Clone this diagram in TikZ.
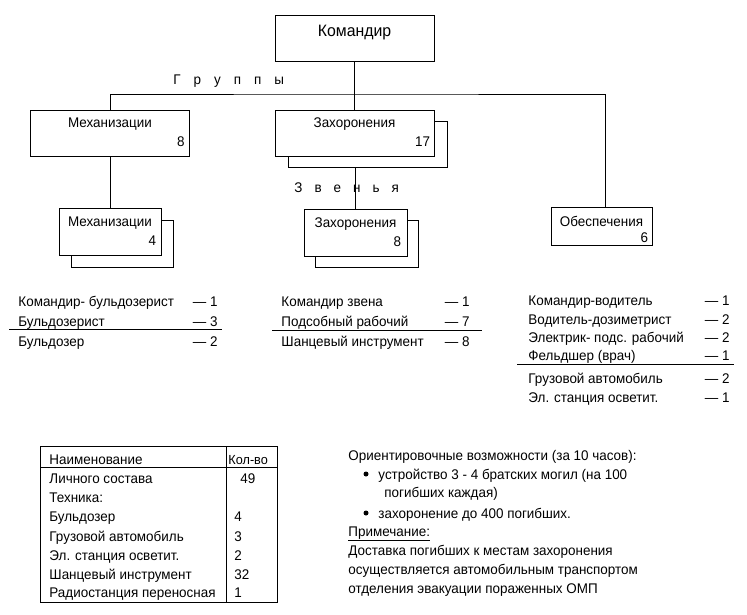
\documentclass[tikz,border=0pt]{standalone}
\usepackage{fontspec}
\setmainfont[FakeStretch=0.96]{Liberation Sans}
\usetikzlibrary{positioning}
\tikzset{
	box/.style={draw, fill=white, inner sep=0pt},
	txt/.style={inner sep=0pt, anchor=base west},
	num/.style={inner sep=0pt, anchor=base east},
}

\begin{document}
\begin{tikzpicture}[x=1pt, y=-1pt, line width=0.9pt, font=\fontsize{14}{16}\selectfont]
			%%%%% START %%%%%
			\useasboundingbox (0,0) rectangle (747,614);
			
			\node[box, minimum width=159pt, minimum height=46pt] (cmd) at (354.5,38) {};
			\node[txt, anchor=base, font=\fontsize{16.5}{18}\selectfont] (cmdT) at ([yshift=-22pt]cmd.north) {Командир};
			
			\node[box, minimum width=159pt, minimum height=46pt] (mech) at (110,133) {};
			\node[txt, anchor=base] (mechT) at ([yshift=-17.5pt]mech.north) {Механизации};
			\node[num] (mechN) at ([xshift=-5pt, yshift=10pt]mech.south east) {8};
			
			\node[box, minimum width=159pt, minimum height=46pt] (zahS) at (368,144.5) {};
			\node[box, minimum width=159pt, minimum height=46pt] (zah) at (354.5,133) {};
			\node[txt, anchor=base] (zahT) at ([yshift=-17.5pt]zah.north) {Захоронения};
			\node[num] (zahN) at ([xshift=-4pt, yshift=10pt]zah.south east) {17};
			
			\node[box, minimum width=102pt, minimum height=47pt] (mech2S) at (122.5,243.5) {};
			\node[box, minimum width=102pt, minimum height=47pt] (mech2) at (110,231.5) {};
			\node[txt, anchor=base] (mech2T) at ([yshift=-19pt]mech2.north) {Механизации};
			\node[num] (mech2N) at ([xshift=-5pt, yshift=10pt]mech2.south east) {4};
			
			\node[box, minimum width=103pt, minimum height=47pt] (zah2S) at (367,244) {};
			\node[box, minimum width=103pt, minimum height=47pt] (zah2) at (355.5,232.5) {};
			\node[txt, anchor=base] (zah2T) at ([yshift=-19pt]zah2.north) {Захоронения};
			\node[num] (zah2N) at ([xshift=-6pt, yshift=10pt]zah2.south east) {8};
			
			\node[box, minimum width=101pt, minimum height=38pt] (obesp) at (601.5,226) {};
			\node[txt, anchor=base] (obespT) at ([yshift=-20pt]obesp.north) {Обеспечения};
			\node[num] (obespN) at ([xshift=-4pt, yshift=2.5pt]obesp.south east) {6};
			
			%%%%% LINKS %%%%%
			\coordinate (bus) at (354.5,94);
			\draw (cmd.south) -- (zah.north);
			\draw (mech.north) |- (bus) -| ([xshift=3.5pt]obesp.north);
			\draw (mech.south) -- (mech2.north);
			\draw (zah2.north |- zahS.south) -- (zah2.north);
			
			\node[txt] (grp) at (173,84) {Г\hspace{13pt}р\hspace{13pt}у\hspace{13pt}п\hspace{13pt}п\hspace{13pt}ы};
			\node[txt] (zv) at (294,192) {З\hspace{12pt}в\hspace{12pt}е\hspace{12pt}н\hspace{12pt}ь\hspace{12pt}я};
			
			%%%%% LISTS %%%%%
			\node[txt] (mechL1) at (18,306.5) {Командир- бульдозерист};
			\node[num] (mechL1n) at (218,306.5) {— 1};
			\node[txt] (mechL2) at (18,326) {Бульдозерист};
			\node[num] (mechL2n) at (218,326) {— 3};
			\draw[line width=0.8pt] (9,329.5) -- (222,329.5);
			\node[txt] (mechL3) at (18,346) {Бульдозер};
			\node[num] (mechL3n) at (218,346) {— 2};
			
			\node[txt] (zahL1) at (281,306.5) {Командир звена};
			\node[num] (zahL1n) at (470,306.5) {— 1};
			\node[txt] (zahL2) at (281,326) {Подсобный рабочий};
			\node[num] (zahL2n) at (470,326) {— 7};
			\draw[line width=0.8pt] (272,330.5) -- (482,330.5);
			\node[txt] (zahL3) at (281,346) {Шанцевый инструмент};
			\node[num] (zahL3n) at (470,346) {— 8};
			
			\node[txt] (obL1) at (528,305) {Командир-водитель};
			\node[num] (obL1n) at (730,305) {— 1};
			\node[txt] (obL2) at (528,324) {Водитель-дозиметрист};
			\node[num] (obL2n) at (730,324) {— 2};
			\node[txt] (obL3) at (528,342) {Электрик- подс. рабочий};
			\node[num] (obL3n) at (730,342) {— 2};
			\node[txt] (obL4) at (528,360.5) {Фельдшер (врач)};
			\node[num] (obL4n) at (730,360.5) {— 1};
			\draw[line width=0.8pt] (517,364) -- (734,364);
			\node[txt] (obL5) at (528,383) {Грузовой автомобиль};
			\node[num] (obL5n) at (730,383) {— 2};
			\node[txt] (obL6) at (528,402) {Эл. станция осветит.};
			\node[num] (obL6n) at (730,402) {— 1};
			
			%%%%% TABLE %%%%%
			\draw (40,446) rectangle (277,602);
			\draw (40,467) -- (277,467);
			\draw (226,446) -- (226,602);
			\node[txt] (th1) at (49,464) {Наименование};
			\node[txt, font=\fontsize{13.2}{16}\selectfont] (th2) at (228,464) {Кол-во};
			\node[txt] (tr1) at (49,483.3) {Личного состава};
			\node[txt] (tr1n) at (240,483.3) {49};
			\node[txt] (tr2) at (49,502.7) {Техника:};
			\node[txt] (tr3) at (49,521.7) {Бульдозер};
			\node[txt] (tr3n) at (234,521.7) {4};
			\node[txt] (tr4) at (49,541) {Грузовой автомобиль};
			\node[txt] (tr4n) at (234,541) {3};
			\node[txt] (tr5) at (49,560) {Эл. станция осветит.};
			\node[txt] (tr5n) at (234,560) {2};
			\node[txt] (tr6) at (49,579) {Шанцевый инструмент};
			\node[txt] (tr6n) at (234,579) {32};
			\node[txt] (tr7) at (49,597.7) {Радиостанция переносная};
			\node[txt] (tr7n) at (234,597.7) {1};
			
			%%%%% NOTES %%%%%
			\node[txt] (nt1) at (348,460) {Ориентировочные возможности (за 10 часов):};
			\fill (366,474) circle (2.5pt);
			\node[txt] (nt2) at (378,479) {устройство 3 - 4 братских могил (на 100};
			\node[txt] (nt3) at (384,497.5) {погибших каждая)};
			\fill (366,513) circle (2.5pt);
			\node[txt] (nt4) at (378,518) {захоронение до 400 погибших.};
			\node[txt] (nt5) at (348,536) {\underline{Примечание:}};
			\node[txt] (nt6) at (348,555) {Доставка погибших к местам захоронения};
			\node[txt] (nt7) at (348,574) {осуществляется автомобильным транспортом};
			\node[txt] (nt8) at (348,593) {отделения эвакуации пораженных ОМП};
			
			%%%%% END %%%%%
\end{tikzpicture}
\end{document}
